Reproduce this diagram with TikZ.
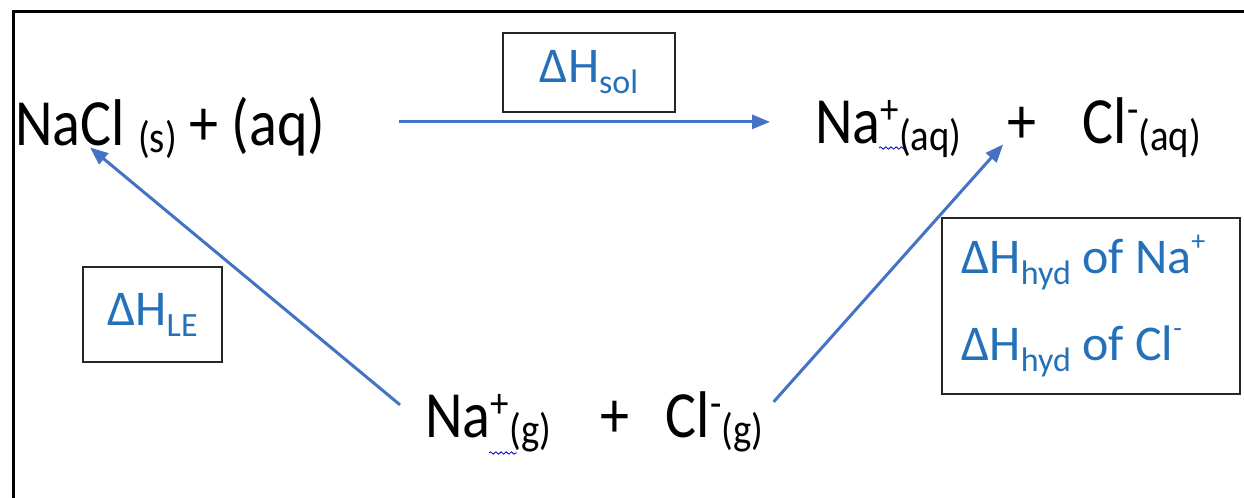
\documentclass[tikz,border=0pt]{standalone}
\usepackage{fontspec}
\setmainfont{Carlito}
\newfontfamily\chemfont[FakeStretch=0.88]{Carlito}
\usepackage{tikz}
\usetikzlibrary{arrows.meta, positioning, calc, decorations.pathmorphing}
\definecolor{arrowblue}{RGB}{68,114,196}
\definecolor{textblue}{RGB}{36,113,186}
\newcommand{\lo}[1]{\raisebox{-0.12em}{\fontsize{22}{22}\selectfont #1}}
\newcommand{\hi}[1]{\raisebox{0.3em}{\fontsize{21}{21}\selectfont #1}}
\newcommand{\lbsub}[1]{\raisebox{-0.22em}{\fontsize{17}{17}\selectfont #1}}
\newcommand{\lbsup}[1]{\raisebox{0.45em}{\fontsize{14}{14}\selectfont #1}}
\tikzstyle{chem} = [inner sep=0pt, anchor=base west, font=\chemfont\fontsize{33}{33}\selectfont]
\tikzstyle{enthalpy} = [rectangle, draw=black!85, line width=1pt, text=textblue, font=\fontsize{25}{25}\selectfont]
\tikzstyle{arrow} = [line width=1.5pt, draw=arrowblue, -{Triangle[length=9pt,width=7pt]}]
\tikzstyle{squiggle} = [blue!70!black, decorate, decoration={snake, amplitude=0.6pt, segment length=2.6pt}]

\begin{document}
\begin{tikzpicture}[x=0.5pt, y=-0.5pt]
    \useasboundingbox (0,0) rectangle (1244,498);
    % outer frame
    \draw[line width=1.5pt] (13,498) -- (13,11.5) -- (1244,11.5);

    \node (nacl) [chem] at (15,145) {NaCl \lo{(s)} + (aq)};
    \node (naq) [chem] at (815,143) {Na\hi{+}\lo{(aq)}\hspace{0.7em}+\hspace{0.7em}Cl\hi{-}\lo{(aq)}};
    \node (gas) [chem] at (425,437) {Na\hi{+}\lo{(g)}\hspace{0.75em}+\hspace{0.55em}Cl\hi{-}\lo{(g)}};

    \node (sol) [enthalpy, minimum width=86pt, minimum height=39.5pt] at (589,72.5) {ΔH\lbsub{sol}\hspace{1.2em}};
    \node (le) [enthalpy, minimum width=69.5pt, minimum height=47.5pt] at (152.5,314.5) {ΔH\lbsub{LE}};
    \node (hyd) [enthalpy, minimum width=149pt, minimum height=88pt, align=left, font=\fontsize{25}{43.5}\selectfont] at (1091,306)
        {ΔH\lbsub{hyd} of Na\lbsup{+}\hspace*{0.3em}\\ΔH\lbsub{hyd} of Cl\lbsup{-}};

    \draw[arrow] ($(nacl.east)+(73,-6)$) -- ($(nacl.east -| naq.west)+(-45,-6)$);
    \draw[arrow] ($(gas.west)+(-25,-17)$) -- ($(nacl.south west)+(75,-12)$);
    \draw[arrow] ($(gas.east)+(10,-20)$) -- ($(naq.south)+(-5,-14)$);

    % spell-check marks
    \draw[squiggle] (879,148) -- (906,148);
    \draw[squiggle] (489,453) -- (517,453);
\end{tikzpicture}
\end{document}
